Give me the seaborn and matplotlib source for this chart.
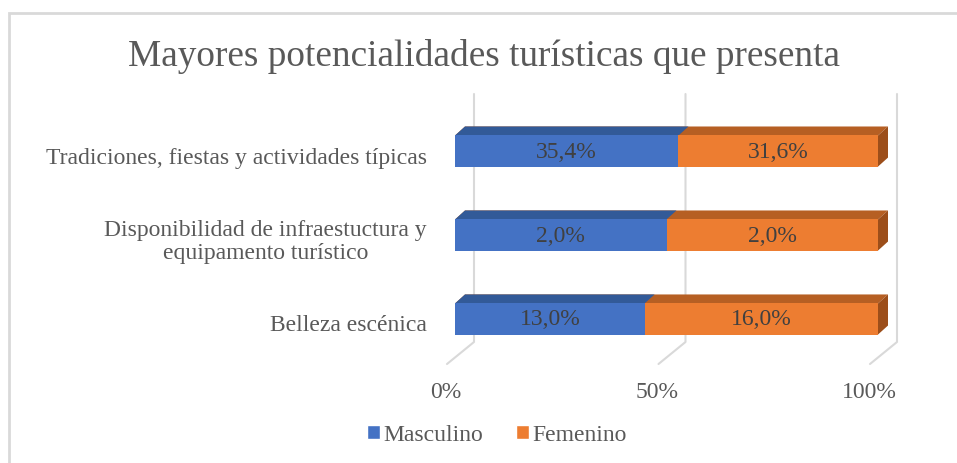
import numpy as np
import pandas as pd
import matplotlib
matplotlib.use('Agg')
import matplotlib.pyplot as plt
import matplotlib.transforms as mtransforms
from matplotlib.patches import Polygon, Patch, Rectangle
import seaborn as sns

# data
categories = ['Tradiciones, fiestas y actividades típicas',
              'Disponibilidad de infraestuctura y\nequipamento turístico',
              'Belleza escénica']
masculino = [35.4, 2.0, 13.0]
femenino = [31.6, 2.0, 16.0]
tick_vals = [0, 50, 100]
tick_labels = ['0%', '50%', '100%']

sns.set_style('white')
plt.rcParams['font.family'] = ['Liberation Serif', 'DejaVu Serif']

df = pd.DataFrame({'cat': categories, 'masc': masculino, 'fem': femenino})
df['total'] = df['masc'] + df['fem']
df['masc_pct'] = df['masc'] / df['total'] * 100
df['full'] = 100.0

blue, orange = '#4472c4', '#ed7d31'
blue_top, orange_top = '#325a98', '#b65f23'
orange_side = '#9c4e1a'
grid_c = '#d9d9d9'
txt_c = '#595959'
fs = 17

W, H = 957, 464
fig = plt.figure(figsize=(W / 100, H / 100), dpi=100)
ax = fig.add_axes([455 / W, 1 - 365 / H, 423 / W, 270 / H])

bar_h = 0.37
sns.barplot(data=df, x='full', y='cat', color=orange, orient='h', width=bar_h,
            ax=ax, saturation=1, linewidth=0, zorder=3)
sns.barplot(data=df, x='masc_pct', y='cat', color=blue, orient='h', width=bar_h,
            ax=ax, saturation=1, linewidth=0, zorder=3)
ax.set_xlim(0, 100)
ax.set_ylim(2.536, -0.679)
ax.set_xlabel('')
ax.set_ylabel('')
for s in ax.spines.values():
    s.set_visible(False)
ax.set_xticks([])
ax.set_yticks([])

fig.canvas.draw()
ident = mtransforms.IdentityTransform()
dx, dy = 10, 9  # bar depth offset in pixels

# category labels, placed at the middle of the 3D floor depth
for i, cat in enumerate(categories):
    yd = ax.transData.transform((0, i))[1] - 6
    fig.text(427 / W, yd / H, cat, ha='right', va='center', multialignment='center',
             linespacing=1.15, fontsize=fs, color=txt_c)

# 3D top / side faces computed from the drawn bars
patches = list(ax.patches)
for p in patches:
    x0, y0 = p.get_x(), p.get_y()
    x1, y1 = x0 + p.get_width(), y0 + p.get_height()
    (px0, ptop), (px1, pbot) = ax.transData.transform([(x0, y0), (x1, y1)])
    is_blue = p.get_facecolor()[2] > 0.6
    top_c = blue_top if is_blue else orange_top
    top = Polygon([(px0, ptop), (px1, ptop), (px1 + dx, ptop + dy), (px0 + dx, ptop + dy)],
                  closed=True, transform=ident, facecolor=top_c, edgecolor='none', zorder=2)
    fig.add_artist(top)
    if not is_blue:
        side = Polygon([(px1, ptop), (px1 + dx, ptop + dy), (px1 + dx, pbot + dy), (px1, pbot)],
                       closed=True, transform=ident, facecolor=orange_side, edgecolor='none', zorder=2)
        fig.add_artist(side)
# bars over faces
for p in patches:
    p.set_zorder(5)
    p.remove()
    p.set_transform(ax.transData)
    fig.add_artist(p)
    p.set_clip_on(False)

# back wall gridlines and floor
ax_bot = ax.transAxes.transform((0, 0))[1]
ax_top = ax.transAxes.transform((0, 1))[1]
for v, lbl in zip(tick_vals, tick_labels):
    xv = ax.transData.transform((v, 0))[0]
    back_x = xv + 19
    floor_y = ax_bot + 22
    fig.add_artist(plt.Line2D([back_x, back_x, xv - 8], [ax_top, floor_y, ax_bot],
                              transform=ident, color=grid_c, linewidth=1.5, zorder=1))
    fig.text((xv - 9) / W, 1 - 393 / H, lbl, ha='center', va='center',
             fontsize=fs, color=txt_c)

# data labels
for i in range(len(df)):
    m = df['masc_pct'].iloc[i]
    ax.text(m / 2, i, f"{df['masc'].iloc[i]:.1f}%".replace('.', ','), ha='center',
            va='center', fontsize=fs, color='#404040', zorder=6)
    ax.text(m + (100 - m) / 2, i, f"{df['fem'].iloc[i]:.1f}%".replace('.', ','),
            ha='center', va='center', fontsize=fs, color='#404040', zorder=6)
for t in ax.texts:
    t.remove()
    t.set_transform(ax.transData)
    fig.add_artist(t)

fig.text(484 / W, 1 - 57 / H, 'Mayores potencialidades turísticas que presenta',
         ha='center', va='center', fontsize=26.8, color=txt_c)

handles = [Patch(facecolor=blue, label='Masculino'), Patch(facecolor=orange, label='Femenino')]
fig.legend(handles=handles, loc='center', bbox_to_anchor=(497 / W, 1 - 436 / H), ncol=2,
           frameon=False, fontsize=fs, labelcolor=txt_c, handlelength=0.55, handleheight=0.55,
           handletextpad=0.15, columnspacing=1.4)

fig.add_artist(Rectangle((9 / W, -0.1), 1.2, 1.1 - 14 / H, transform=fig.transFigure,
                         fill=False, edgecolor=grid_c, linewidth=2))

fig.savefig('out.png', dpi=100)
